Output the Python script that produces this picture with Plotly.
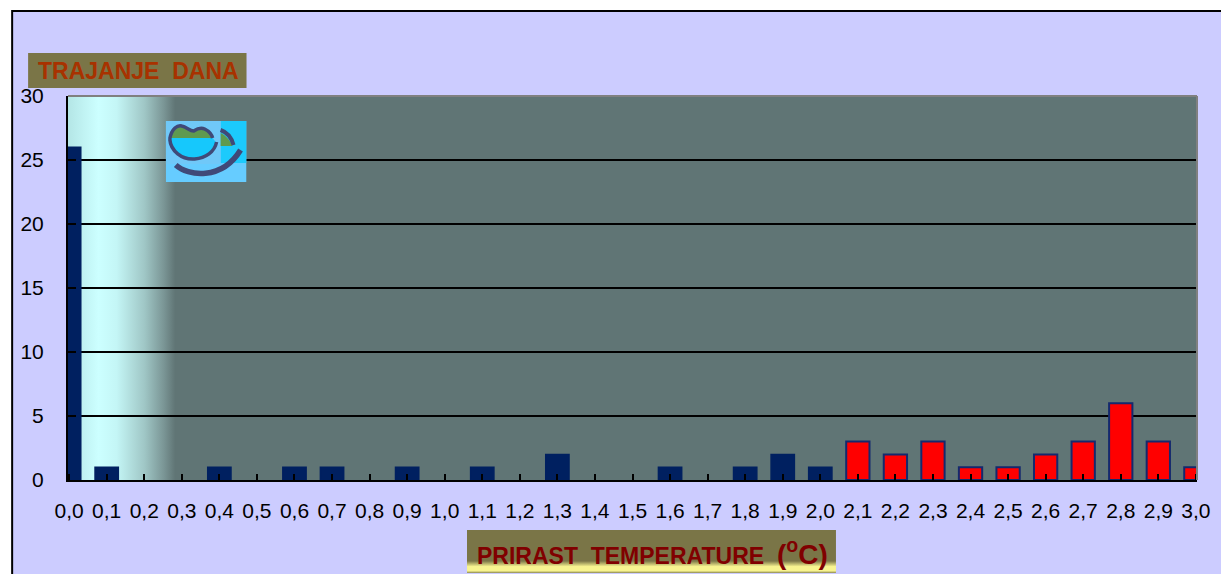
import base64
import plotly.graph_objects as go

OFF = 8  # the page shifts the figure by its body margin
W, H = 1229 - OFF, 574 - OFF

def sx(x):  # page x wanted -> figure x
    return x - OFF

L, R, T, B = sx(65), sx(1197), 96 - OFF, 480 - OFF

categories = ["0,0","0,1","0,2","0,3","0,4","0,5","0,6","0,7","0,8","0,9","1,0",
              "1,1","1,2","1,3","1,4","1,5","1,6","1,7","1,8","1,9","2,0",
              "2,1","2,2","2,3","2,4","2,5","2,6","2,7","2,8","2,9","3,0"]
blue_values = [26,1,None,None,1,None,1,1,None,1,None,1,None,2,None,None,1,None,1,2,1,
               None,None,None,None,None,None,None,None,None,None]
red_values = [None]*21 + [3,2,3,1,1,2,3,6,3,1]
y_ticks = [0,5,10,15,20,25,30]
y_title = "TRAJANJE\u00a0\u00a0DANA"
x_title = 'PRIRAST\u00a0\u00a0TEMPERATURE\u00a0\u00a0<span style="font-size:28px">(<sup>o</sup>C)</span>'

def uri(svg):
    return "data:image/svg+xml;base64," + base64.b64encode(svg.encode()).decode()

def px(x): return (sx(x) - L) / (R - L)
def py(y): return (B - (y - OFF)) / (B - T)

plot_gradient = uri('''<svg xmlns="http://www.w3.org/2000/svg" width="1132" height="384" preserveAspectRatio="none">
<defs><linearGradient id="g" x1="0" x2="1" y1="0" y2="0">
<stop offset="0" stop-color="#b4e6e6"/><stop offset="0.027" stop-color="#ccffff"/>
<stop offset="0.043" stop-color="#c4f6f6"/><stop offset="0.068" stop-color="#9fc6c5"/>
<stop offset="0.085" stop-color="#7a9595"/><stop offset="0.095" stop-color="#607575"/>
<stop offset="1" stop-color="#607575"/></linearGradient></defs>
<rect width="1132" height="384" fill="url(#g)"/></svg>''')

x_title_bg = uri('''<svg xmlns="http://www.w3.org/2000/svg" width="370" height="43" preserveAspectRatio="none">
<defs><linearGradient id="g" x1="0" x2="0" y1="0" y2="1">
<stop offset="0" stop-color="#7a7547"/><stop offset="0.72" stop-color="#7a7547"/>
<stop offset="0.85" stop-color="#f8f490"/><stop offset="0.95" stop-color="#f8f490"/>
<stop offset="1" stop-color="#8a8650"/></linearGradient></defs>
<rect width="370" height="43" fill="url(#g)"/></svg>''')

logo = uri('''<svg xmlns="http://www.w3.org/2000/svg" width="81" height="61" viewBox="0 0 81 61" preserveAspectRatio="none">
<defs><filter id="b"><feGaussianBlur stdDeviation="0.6"/></filter></defs>
<rect width="81" height="61" fill="#66ccff"/>
<rect x="55" width="26" height="42" fill="#1ccafc"/>
<rect width="55" height="43" fill="#70c8f8"/>
<g filter="url(#b)">
<path d="M5 17 C7 6 13 4 17 5 C22 6 25 10 28 10 C31 8 35 6 39 8 C43 10 46 13 47 17 Z" fill="#5f9a50"/>
<path d="M5 17 C5 30 16 38 29 38 C40 37 48 30 50 21 L47 17 Z" fill="#14c8fc"/>
<path d="M4 18 C6 7 12 4 16 5 C21 6 24 10 28 10 C31 8 35 6 39 8 C43 10 46 13 47 17" fill="none" stroke="#3f4a78" stroke-width="3.5"/>
<path d="M4 18 C5 30 16 39 29 38 C40 37 49 31 51 21" fill="none" stroke="#3f4a78" stroke-width="3.5"/>
<path d="M55 12 C60 14 64 19 67 25 L55 25 Z" fill="#5f9a50"/>
<path d="M55 9 C61 11 66 17 68 24" fill="none" stroke="#3f4a78" stroke-width="4"/>
<path d="M10 44 C22 55 56 60 75 29" fill="none" stroke="#3f4a78" stroke-width="5.5"/>
</g>
</svg>''')

fig = go.Figure()
positions = list(range(len(categories)))
fig.add_bar(x=positions, y=blue_values, marker=dict(color="#002060", line=dict(color="#002060", width=1.5)),
            width=0.62, name="blue", showlegend=False)
fig.add_bar(x=positions, y=red_values, marker=dict(color="#ff0000", line=dict(color="#14296e", width=2)),
            width=0.62, name="red", showlegend=False)

fig.update_layout(
    width=W, height=H, autosize=False,
    margin=dict(l=L, r=W - R, t=T, b=H - B),
    paper_bgcolor="#ffffff", plot_bgcolor="rgba(0,0,0,0)",
    barmode="overlay", showlegend=False,
    font=dict(family="Liberation Sans, Arial, sans-serif", color="#000000", size=21),
    xaxis=dict(range=[-0.03, 30.03], tickmode="array", tickvals=positions, ticktext=categories,
               ticks="inside", ticklen=6, tickwidth=2, tickcolor="#000000", tickangle=0,
               showline=True, linecolor="#000000", linewidth=2, showgrid=False, zeroline=False,
               tickfont=dict(size=21), ticklabelstandoff=11),
    yaxis=dict(range=[0, 30], tickmode="array", tickvals=y_ticks, ticktext=[str(v) for v in y_ticks],
               ticks="inside", ticklen=8, tickwidth=2, tickcolor="#000000",
               showline=True, linecolor="#000000", linewidth=2,
               showgrid=True, gridcolor="#000000", gridwidth=2, zeroline=False,
               tickfont=dict(size=21), ticklabelstandoff=18),
    shapes=[
        dict(type="rect", xref="paper", yref="paper", layer="below",
             x0=px(9), x1=px(1300), y0=py(11), y1=py(640),
             fillcolor="#ccccff", line=dict(color="#000000", width=2)),
        dict(type="line", xref="paper", yref="paper", layer="above",
             x0=0, x1=1, y0=1, y1=1, line=dict(color="#808080", width=2)),
        dict(type="line", xref="paper", yref="paper", layer="above",
             x0=1, x1=1, y0=0, y1=1, line=dict(color="#808080", width=2)),
        dict(type="rect", xref="paper", yref="paper", layer="below",
             x0=px(25), x1=px(244), y0=py(53), y1=py(88),
             fillcolor="#7a7547", line=dict(width=0)),
    ],
    images=[
        dict(source=plot_gradient, xref="x", yref="y", x=-0.03, y=30, sizex=30.06, sizey=30,
             sizing="stretch", xanchor="left", yanchor="top", layer="below"),
        dict(source=x_title_bg, xref="paper", yref="paper", x=px(465), y=py(530),
             sizex=370 / (R - L), sizey=43 / (B - T),
             sizing="stretch", xanchor="left", yanchor="top", layer="above"),
        dict(source=logo, xref="paper", yref="paper", x=px(163), y=py(121),
             sizex=81 / (R - L), sizey=61 / (B - T),
             sizing="stretch", xanchor="left", yanchor="top", layer="above"),
    ],
    annotations=[
        dict(text=y_title, xref="paper", yref="paper", x=px(135.5), y=py(70.5), showarrow=False,
             xanchor="center", yanchor="middle",
             font=dict(size=23, color="#a83200", family="Liberation Sans, Arial, sans-serif", weight="bold")),
        dict(text=x_title, xref="paper", yref="paper", x=px(651), y=py(552), showarrow=False,
             xanchor="center", yanchor="middle",
             font=dict(size=23, color="#800000", family="Liberation Sans, Arial, sans-serif", weight="bold")),
    ],
)

fig.write_html("out.html", config=dict(displayModeBar=False))
